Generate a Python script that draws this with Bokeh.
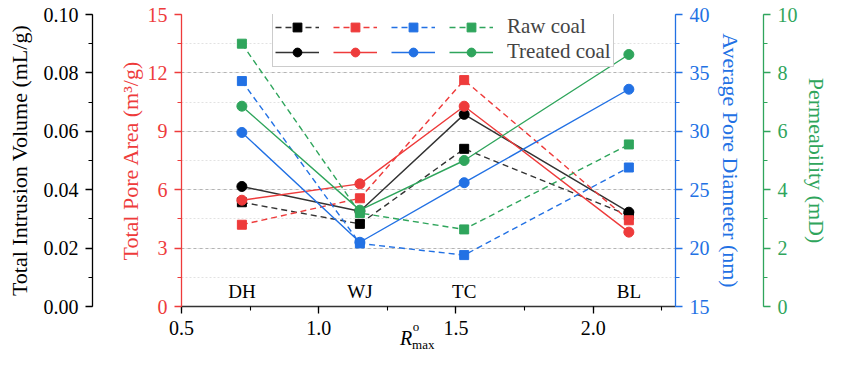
from bokeh.plotting import figure
from bokeh.models import (Range1d, LinearAxis, SingleIntervalTicker, FixedTicker,
                          Legend, LegendItem, ColumnDataSource, PrintfTickFormatter)
from bokeh.core.properties import value
from bokeh.embed import file_html
from bokeh.resources import INLINE

# ---------------- data ----------------
rank = [0.72, 1.15, 1.53, 2.13]
sites = ["DH", "WJ", "TC", "BL"]
volume_raw = [0.0357, 0.0283, 0.0540, 0.0312]
volume_treated = [0.0411, 0.0326, 0.0658, 0.0323]
area_raw = [4.20, 5.56, 11.63, 4.43]
area_treated = [5.46, 6.30, 10.29, 3.82]
diameter_raw = [34.3, 20.4, 19.4, 26.9]
diameter_treated = [29.9, 20.5, 25.6, 33.6]
perm_raw = [9.00, 3.20, 2.64, 5.55]
perm_treated = [6.86, 3.30, 5.00, 8.63]

FONT = "Liberation Serif"
BLACK = "#000000"
RED = "#EE3B3B"
BLUE = "#2271E4"
GREEN = "#2FA55C"
TICK_FS = "20px"
TITLE_FS = "22px"

p = figure(width=831, height=355, x_range=Range1d(0.5, 2.3), y_range=Range1d(0, 15),
           output_backend="svg", toolbar_location=None,
           min_border_left=181, min_border_right=148, min_border_top=14, min_border_bottom=49)
p.extra_y_ranges = {"vol": Range1d(0, 0.10), "dia": Range1d(15, 40), "perm": Range1d(0, 10)}
p.outline_line_color = None
p.background_fill_color = "white"
p.border_fill_color = "white"


def style_axis(ax, color, interval, label, fmt=None, title_standoff=6):
    ax.ticker = SingleIntervalTicker(interval=interval, num_minor_ticks=2)
    if fmt:
        ax.formatter = PrintfTickFormatter(format=fmt)
    ax.axis_line_color = color
    ax.axis_line_width = 1.3
    ax.major_tick_line_color = color
    ax.minor_tick_line_color = color
    ax.major_tick_line_width = 1.3
    ax.minor_tick_line_width = 1.1
    ax.major_tick_out = 7
    ax.major_tick_in = 0
    ax.minor_tick_out = 4
    ax.minor_tick_in = 0
    ax.major_label_text_color = color
    ax.major_label_text_font = FONT
    ax.major_label_text_font_size = TICK_FS
    ax.major_label_standoff = 7
    ax.axis_label = label
    ax.axis_label_text_color = color
    ax.axis_label_text_font = FONT
    ax.axis_label_text_font_size = TITLE_FS
    ax.axis_label_text_font_style = "normal"
    ax.axis_label_standoff = title_standoff


def spacer(width, rng, mid):
    # invisible axis that only reserves horizontal room between two visible axes
    ax = LinearAxis(y_range_name=rng, ticker=FixedTicker(ticks=[mid]),
                    major_label_overrides={mid: ""})
    ax.axis_line_color = None
    ax.major_tick_line_color = None
    ax.minor_tick_line_color = None
    ax.major_tick_out = width
    ax.major_tick_in = 0
    ax.minor_tick_out = 0
    ax.major_label_standoff = 0
    ax.major_label_text_font_size = "0px"
    return ax


def text_axis(xpos, text, size, style, standoff):
    # invisible axis used only to write one piece of the x-axis title
    ax = LinearAxis(ticker=FixedTicker(ticks=[xpos]), major_label_overrides={xpos: text})
    ax.axis_line_color = None
    ax.major_tick_line_color = None
    ax.minor_tick_line_color = None
    ax.major_tick_out = 0
    ax.major_tick_in = 0
    ax.minor_tick_out = 0
    ax.minor_tick_in = 0
    ax.major_label_text_font = FONT
    ax.major_label_text_font_size = size
    ax.major_label_text_font_style = style
    ax.major_label_text_color = "black"
    ax.major_label_standoff = standoff
    return ax


# left axes: red (primary), spacer, black
style_axis(p.yaxis[0], RED, 3, "Total Pore Area (m³/g)", title_standoff=2)
p.add_layout(spacer(22, "vol", 0.05), "left")
vol_axis = LinearAxis(y_range_name="vol")
style_axis(vol_axis, BLACK, 0.02, "Total Intrusion Volume (mL/g)", "%.2f", title_standoff=9)
p.add_layout(vol_axis, "left")

# right axes: blue, spacer, green
dia_axis = LinearAxis(y_range_name="dia")
style_axis(dia_axis, BLUE, 5, "Average Pore Diameter (nm)", title_standoff=5)
p.add_layout(dia_axis, "right")
p.add_layout(spacer(18, "perm", 5), "right")
perm_axis = LinearAxis(y_range_name="perm")
style_axis(perm_axis, GREEN, 2, "Permeability (mD)", title_standoff=3)
p.add_layout(perm_axis, "right")

# x axis
xa = p.xaxis[0]
style_axis(xa, BLACK, 0.5, None, "%.1f")
xa.axis_label = None
xa.axis_line_color = "#333333"
xa.major_label_standoff = 7

# x axis title  R^o_max  (three pieces)
p.add_layout(text_axis(1.3186, "R", "20px", "italic", -11), "below")
p.add_layout(text_axis(1.354, "o", "13px", "normal", -33), "below")
p.add_layout(text_axis(1.381, "max", "13px", "normal", -15), "below")

# grid
p.xgrid.visible = False
p.ygrid.ticker = SingleIntervalTicker(interval=3, num_minor_ticks=2)
p.ygrid.grid_line_color = "#b4b4b4"
p.ygrid.grid_line_dash = "3 3"
p.ygrid.grid_line_width = 1
p.ygrid.minor_grid_line_color = "#e2e2e2"
p.ygrid.minor_grid_line_dash = "2 2"

# ---------------- series ----------------
series = [
    (volume_treated, volume_raw, BLACK, "vol"),
    (area_treated, area_raw, RED, "default"),
    (diameter_treated, diameter_raw, BLUE, "dia"),
    (perm_treated, perm_raw, GREEN, "perm"),
]
raw_items, treated_items = [], []
for treated, raw, color, rng in series:
    src_t = ColumnDataSource(dict(x=rank, y=treated))
    src_r = ColumnDataSource(dict(x=rank, y=raw))
    lc = "#333333" if color == BLACK else color
    lt = p.line("x", "y", source=src_t, y_range_name=rng, line_color=lc, line_width=1.4)
    st = p.scatter("x", "y", source=src_t, y_range_name=rng, marker="circle", size=10,
                   fill_color=color, line_color=color)
    lr = p.line("x", "y", source=src_r, y_range_name=rng, line_color=lc, line_width=1.4,
                line_dash="6 4")
    sr = p.scatter("x", "y", source=src_r, y_range_name=rng, marker="square", size=9,
                   fill_color=color, line_color=color)
    raw_items.append((lr, sr))
    treated_items.append((lt, st))

# site labels
p.text(x=rank, y=[0] * 4, text=sites, text_font=value(FONT), text_font_size="19px",
       text_align="center", text_baseline="bottom", y_offset=-5, text_color="black")

# legend (kept inside the frame, top edge just below the frame top)
items = []
for i, (l, s) in enumerate(raw_items):
    items.append(LegendItem(label="Raw coal" if i == 3 else "", renderers=[l, s]))
for i, (l, s) in enumerate(treated_items):
    items.append(LegendItem(label="Treated coal" if i == 3 else "", renderers=[l, s]))
leg = Legend(items=items, orientation="horizontal", ncols=4, location=(91, 239))
leg.glyph_width = 44
leg.glyph_height = 22
leg.label_width = 0
leg.label_height = 22
leg.label_standoff = 14
leg.spacing = 0
leg.padding = 2
leg.margin = 0
leg.label_text_font = FONT
leg.label_text_font_size = "21px"
leg.border_line_color = "#9a9a9a"
leg.border_line_width = 1
leg.background_fill_alpha = 1
p.add_layout(leg, "center")

open("out.html", "w").write(file_html(p, INLINE))
